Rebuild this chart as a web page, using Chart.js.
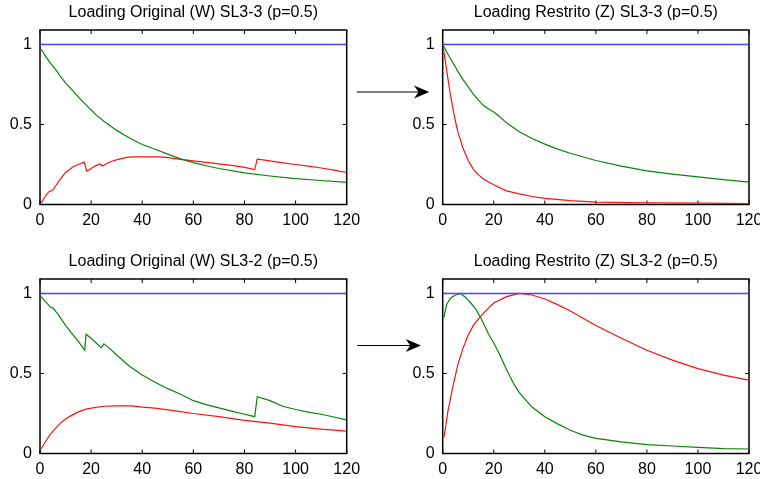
<!DOCTYPE html>
<html>
<head>
<meta charset="utf-8">
<script src="https://cdn.jsdelivr.net/npm/chart.js@4/dist/chart.umd.min.js"></script>
<style>
  html, body { margin:0; padding:0; background:#fff; width:760px; height:479px; overflow:hidden; position:relative; }
  .panel { position:absolute; }
  svg { position:absolute; left:0; top:0; }
</style>
</head>
<body>
<div class="panel" style="left:0px;top:0px;width:380px;height:230px"><canvas id="cA" width="380" height="230"></canvas></div>
<div class="panel" style="left:403px;top:0px;width:397px;height:230px"><canvas id="cB" width="397" height="230"></canvas></div>
<div class="panel" style="left:0px;top:249px;width:380px;height:230px"><canvas id="cC" width="380" height="230"></canvas></div>
<div class="panel" style="left:403px;top:249px;width:397px;height:230px"><canvas id="cD" width="397" height="230"></canvas></div>
<svg width="760" height="479">
  <line x1="356.7" y1="92" x2="420" y2="92" stroke="#000" stroke-width="1.1"/>
  <polygon points="429.3,92 414,85.5 418.5,92 414,98.5" fill="#000"/>
  <line x1="357.3" y1="345.5" x2="412" y2="345.5" stroke="#000" stroke-width="1.1"/>
  <polygon points="421,345.5 405.7,339 410.2,345.5 405.7,352" fill="#000"/>
</svg>
<script>
// ---- titles ----
const titles = [
  'Loading Original (W) SL3-3 (p=0.5)',
  'Loading Restrito (Z) SL3-3 (p=0.5)',
  'Loading Original (W) SL3-2 (p=0.5)',
  'Loading Restrito (Z) SL3-2 (p=0.5)'
];
const xTicks = [0, 20, 40, 60, 80, 100, 120];
const yTicks = [0, 0.5, 1];

// ---- reference line (blue) ----
const blueX = [0, 120];
const blueY = [1, 1];

// ---- Panel A: Loading Original (W) SL3-3 ----
const A_greenX = [0.5, 2, 4, 6, 8, 10, 12, 14, 16, 18, 20, 22, 25, 28, 30, 35, 40, 45, 50, 55, 60, 65, 70, 80, 90, 100, 110, 120];
const A_greenY = [0.97, 0.93, 0.885, 0.845, 0.8, 0.76, 0.725, 0.69, 0.655, 0.622, 0.59, 0.56, 0.52, 0.485, 0.463, 0.415, 0.375, 0.345, 0.315, 0.285, 0.262, 0.242, 0.225, 0.197, 0.178, 0.162, 0.15, 0.138];
const A_redX = [0.5, 2, 3.5, 5, 6.5, 8, 10, 13, 15, 17.3, 18.3, 19.6, 21.5, 23.5, 24.5, 26, 28, 31, 34, 36, 47, 50, 55, 60, 65, 70, 75, 80, 84, 85, 88, 95, 100, 105, 110, 115, 120];
const A_redY = [0.01, 0.05, 0.08, 0.09, 0.125, 0.16, 0.2, 0.236, 0.25, 0.265, 0.209, 0.22, 0.24, 0.253, 0.24, 0.255, 0.27, 0.283, 0.294, 0.297, 0.297, 0.293, 0.282, 0.272, 0.263, 0.254, 0.244, 0.232, 0.218, 0.283, 0.277, 0.26, 0.25, 0.24, 0.228, 0.215, 0.2];

// ---- Panel B: Loading Restrito (Z) SL3-3 ----
const B_greenX = [0, 2, 4, 6, 8, 10, 12, 14, 16, 18, 20, 22, 25, 30, 35, 40, 45, 50, 60, 70, 80, 90, 100, 110, 120];
const B_greenY = [1, 0.94, 0.885, 0.83, 0.78, 0.735, 0.69, 0.652, 0.618, 0.596, 0.578, 0.553, 0.51, 0.455, 0.412, 0.377, 0.346, 0.32, 0.275, 0.24, 0.21, 0.19, 0.172, 0.155, 0.14];
const B_redX = [0, 1, 2, 3, 4, 5, 6, 8, 10, 12, 14, 16, 18, 20, 25, 30, 35, 40, 50, 60, 80, 100, 120];
const B_redY = [1, 0.9, 0.79, 0.69, 0.6, 0.52, 0.45, 0.35, 0.275, 0.22, 0.185, 0.16, 0.14, 0.123, 0.085, 0.066, 0.05, 0.038, 0.024, 0.015, 0.01, 0.008, 0.005];

// ---- Panel C: Loading Original (W) SL3-2 ----
const C_greenX = [0.5, 2, 3, 4, 5, 7, 10, 13, 15, 17.5, 18, 20, 22, 24, 25, 27, 30, 35, 40, 45, 50, 55, 60, 65, 70, 75, 80, 84, 85, 90, 95, 100, 105, 110, 115, 120];
const C_greenY = [0.98, 0.95, 0.935, 0.915, 0.91, 0.87, 0.8, 0.74, 0.7, 0.645, 0.745, 0.72, 0.69, 0.66, 0.685, 0.66, 0.615, 0.545, 0.49, 0.445, 0.405, 0.37, 0.33, 0.305, 0.285, 0.265, 0.245, 0.23, 0.355, 0.33, 0.295, 0.275, 0.258, 0.245, 0.228, 0.21];
const C_redX = [0.5, 2, 4, 6, 8, 10, 12, 15, 18, 20, 25, 30, 36, 40, 45, 50, 55, 60, 70, 80, 90, 100, 110, 120];
const C_redY = [0.03, 0.07, 0.12, 0.155, 0.19, 0.215, 0.235, 0.26, 0.277, 0.283, 0.295, 0.298, 0.298, 0.29, 0.283, 0.272, 0.262, 0.25, 0.23, 0.207, 0.19, 0.168, 0.152, 0.14];

// ---- Panel D: Loading Restrito (Z) SL3-2 ----
const D_greenX = [0.5, 1.5, 3, 5, 7, 9, 11, 13, 15, 18, 20, 22, 25, 28, 30, 35, 40, 45, 50, 55, 60, 70, 80, 90, 100, 110, 120];
const D_greenY = [0.85, 0.93, 0.97, 0.99, 1.0, 0.975, 0.94, 0.9, 0.845, 0.745, 0.69, 0.63, 0.525, 0.43, 0.38, 0.29, 0.23, 0.185, 0.145, 0.115, 0.095, 0.073, 0.056, 0.047, 0.038, 0.031, 0.028];
const D_redX = [0.5, 2, 4, 6, 8, 10, 12, 15, 18, 20, 25, 30, 35, 40, 45, 50, 55, 60, 70, 80, 90, 100, 110, 120];
const D_redY = [0.1, 0.26, 0.42, 0.56, 0.66, 0.74, 0.8, 0.86, 0.91, 0.94, 0.98, 1.0, 0.99, 0.965, 0.93, 0.89, 0.845, 0.8, 0.72, 0.645, 0.583, 0.53, 0.49, 0.458];

const FONT = "'Liberation Sans', Arial, sans-serif";
const pts = (xs, ys) => xs.map((x, i) => ({x: x, y: ys[i]}));

const boxPlugin = {
  id: 'boxTicks',
  beforeDatasetsDraw(chart) {
    const {ctx, chartArea: a, scales} = chart;
    const x = scales.x, y = scales.y;
    ctx.save();
    ctx.strokeStyle = '#000';
    ctx.lineWidth = 1.5;
    ctx.strokeRect(a.left, a.top, a.right - a.left, a.bottom - a.top);
    ctx.lineWidth = 1;
    ctx.beginPath();
    x.ticks.forEach(t => {
      const px = x.getPixelForValue(t.value);
      ctx.moveTo(px, a.bottom); ctx.lineTo(px, a.bottom - 4);
      ctx.moveTo(px, a.top); ctx.lineTo(px, a.top + 4);
    });
    y.ticks.forEach(t => {
      const py = y.getPixelForValue(t.value);
      ctx.moveTo(a.left, py); ctx.lineTo(a.left + 4, py);
      ctx.moveTo(a.right, py); ctx.lineTo(a.right - 4, py);
    });
    ctx.stroke();
    ctx.restore();
  }
};

function makeChart(id, title, greenX, greenY, redX, redY, padRight) {
  new Chart(document.getElementById(id), {
    type: 'line',
    data: {
      datasets: [
        {data: pts(blueX, blueY), borderColor: '#4646ff', borderWidth: 1.5, pointRadius: 0, tension: 0},
        {data: pts(greenX, greenY), borderColor: '#0a840a', borderWidth: 1.2, pointRadius: 0, tension: 0},
        {data: pts(redX, redY), borderColor: '#ff1010', borderWidth: 1.2, pointRadius: 0, tension: 0}
      ]
    },
    options: {
      responsive: false,
      animation: false,
      devicePixelRatio: 1,
      layout: {padding: {left: 0, top: 0, bottom: 0, right: padRight}},
      plugins: {
        legend: {display: false},
        tooltip: {enabled: false},
        title: {
          display: true, text: title, color: '#000', fullSize: false,
          font: {family: FONT, size: 16, weight: 'normal', lineHeight: 1.2},
          padding: {top: 3.2, bottom: 7.6}
        }
      },
      scales: {
        x: {
          type: 'linear', min: 0, max: 120,
          grid: {display: false, drawTicks: false},
          border: {display: false},
          afterBuildTicks: s => { s.ticks = xTicks.map(v => ({value: v})); },
          afterFit: s => { s.height = 25.5; },
          ticks: {color: '#000', font: {family: FONT, size: 16}, padding: 6, maxRotation: 0, autoSkip: false,
                  callback: v => String(v)}
        },
        y: {
          type: 'linear', min: 0, max: 1.09,
          grid: {display: false, drawTicks: false},
          border: {display: false},
          afterBuildTicks: s => { s.ticks = yTicks.map(v => ({value: v})); },
          afterFit: s => { s.width = (id === 'cB' || id === 'cD') ? 39.7 : 40; },
          ticks: {color: '#000', font: {family: FONT, size: 16}, padding: 8,
                  callback: v => String(v)}
        }
      }
    },
    plugins: [boxPlugin]
  });
}

makeChart('cA', titles[0], A_greenX, A_greenY, A_redX, A_redY, 33.3);
makeChart('cB', titles[1], B_greenX, B_greenY, B_redX, B_redY, 51);
makeChart('cC', titles[2], C_greenX, C_greenY, C_redX, C_redY, 33.3);
makeChart('cD', titles[3], D_greenX, D_greenY, D_redX, D_redY, 51);
</script>
</body>
</html>
